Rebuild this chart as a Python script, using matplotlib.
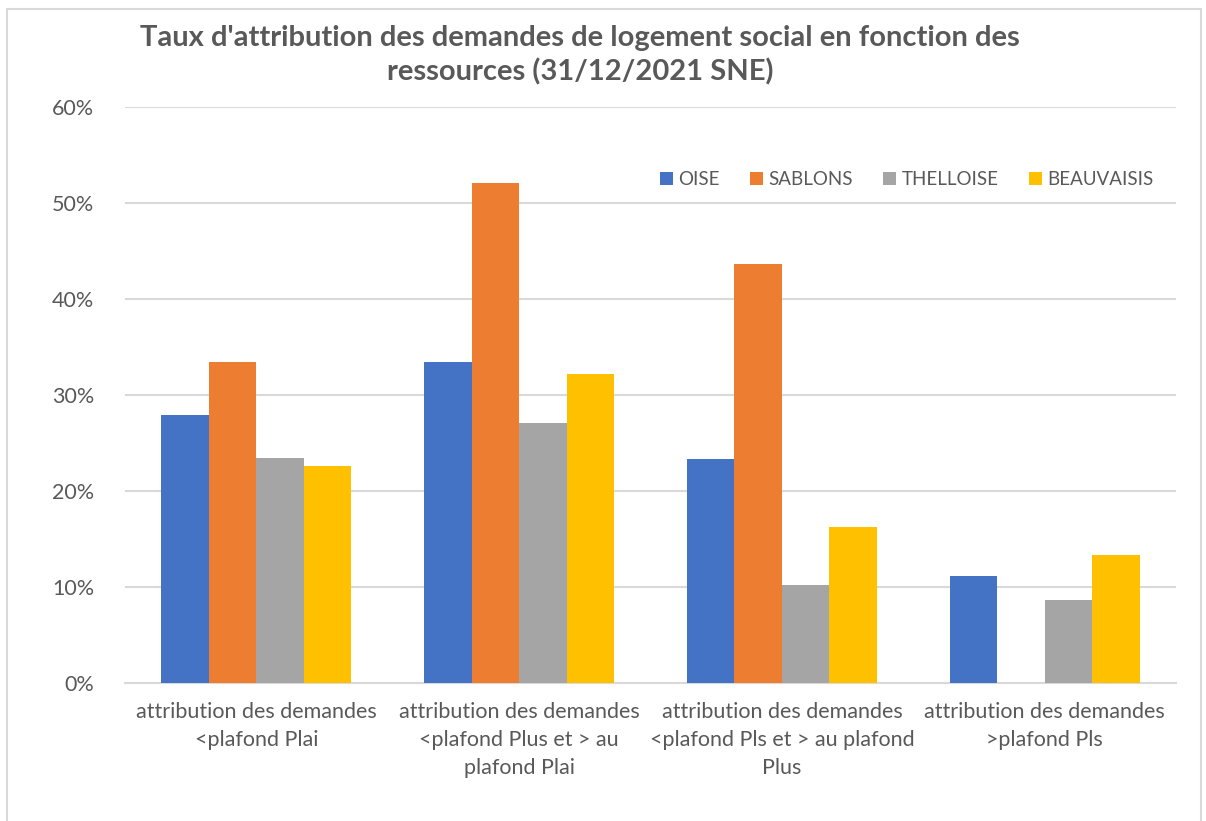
import numpy as np
import matplotlib.pyplot as plt
from matplotlib.patches import Rectangle
from matplotlib.ticker import PercentFormatter

categories = ['attribution des demandes\n<plafond Plai',
              'attribution des demandes\n<plafond Plus et > au\nplafond Plai',
              'attribution des demandes\n<plafond Pls et > au plafond\nPlus',
              'attribution des demandes\n>plafond Pls']
series = ['OISE', 'SABLONS', 'THELLOISE', 'BEAUVAISIS']
oise = [27.9, 33.4, 23.3, 11.1]
sablons = [33.4, 52.1, 43.6, 0.0]
thelloise = [23.4, 27.1, 10.2, 8.6]
beauvaisis = [22.6, 32.2, 16.2, 13.3]
colors = ['#4472C4', '#ED7D31', '#A5A5A5', '#FFC000']

plt.rcParams['font.family'] = ['Lato', 'DejaVu Sans']
txt = '#595959'

fig = plt.figure(figsize=(12.06, 8.21), dpi=100)
ax = fig.add_axes([125/1206, 1-683/821, 1051/1206, 576/821])

x = np.arange(len(categories))
w = 0.181
for i, (name, vals) in enumerate(zip(series, [oise, sablons, thelloise, beauvaisis])):
    ax.bar(x + (i - 1.5)*w, vals, w, color=colors[i], label=name, zorder=3)

ax.set_xlim(-0.5, 3.5)
ax.set_ylim(0, 60)
ax.set_yticks(np.arange(0, 61, 10))
ax.yaxis.set_major_formatter(PercentFormatter(decimals=0))
ax.set_xticks(x)
ax.set_xticklabels(categories, fontsize=15.5, color=txt, linespacing=1.5)
ax.tick_params(axis='y', labelsize=15.5, colors=txt, length=0, pad=22)
ax.tick_params(axis='x', length=0, pad=14)
ax.grid(axis='y', color='#D9D9D9', linewidth=1.5, zorder=0)
for s in ['top', 'right', 'left']:
    ax.spines[s].set_visible(False)
ax.spines['bottom'].set_color('#D9D9D9')
ax.spines['bottom'].set_linewidth(1.5)

leg = ax.legend(loc='upper right', bbox_to_anchor=(0.995, 0.918), ncol=4, frameon=False,
                fontsize=13.5, handlelength=0.7, handleheight=0.7, handletextpad=0.3,
                columnspacing=1.6, labelcolor=txt)

fig.text(580/1206, 1-55/821, "Taux d'attribution des demandes de logement social en fonction des\nressources (31/12/2021 SNE)",
         ha='center', va='center', fontsize=21, fontweight='bold', color=txt, linespacing=1.35)

fig.patches.append(Rectangle((7/1206, -0.1), 1194/1206, 1.1 - 9/821, transform=fig.transFigure,
                             fill=False, edgecolor='#D9D9D9', linewidth=1.5))

fig.savefig('out.png', dpi=100)
